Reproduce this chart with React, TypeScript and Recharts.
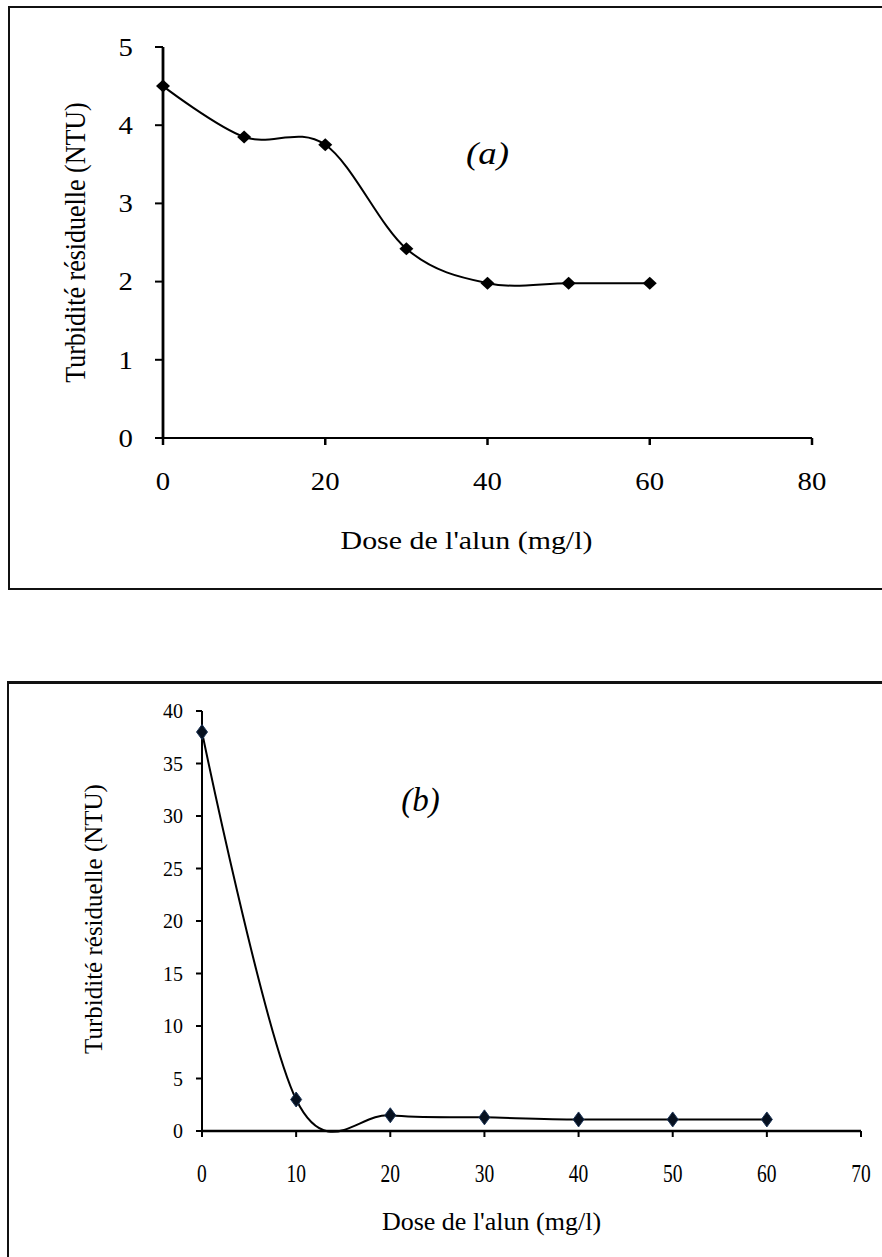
import React from 'react';
import { LineChart, Line, XAxis, YAxis, ReferenceDot } from 'recharts';

// ---------- data ----------
const doseA = [0, 10, 20, 30, 40, 50, 60];
const turbA = [4.5, 3.85, 3.75, 2.42, 1.98, 1.98, 1.98];
const xTicksA = [0, 20, 40, 60, 80];
const yTicksA = [0, 1, 2, 3, 4, 5];

const doseB = [0, 10, 20, 30, 40, 50, 60];
const turbB = [38, 3, 1.5, 1.3, 1.1, 1.1, 1.1];
const xTicksB = [0, 10, 20, 30, 40, 50, 60, 70];
const yTicksB = [0, 5, 10, 15, 20, 25, 30, 35, 40];

const xTitle = "Dose de l'alun (mg/l)";
const yTitle = 'Turbidité résiduelle (NTU)';
const tagA = '(a)';
const tagB = '(b)';

const dataA = doseA.map((x, i) => ({ x, y: turbA[i] }));
const dataB = doseB.map((x, i) => ({ x, y: turbB[i] }));

const FONT = "'Liberation Serif', 'Times New Roman', serif";

// Excel-like smoothed line (cardinal spline, tension 0)
function excelSmooth(context: any) {
  let x0 = NaN, y0 = NaN, x1 = NaN, y1 = NaN, x2 = NaN, y2 = NaN, pt = 0;
  const k = 1 / 6;
  const seg = (x: number, y: number) =>
    context.bezierCurveTo(
      x1 + k * (x2 - x0),
      y1 + k * (y2 - y0),
      x2 + k * (x1 - x),
      y2 + k * (y1 - y),
      x2,
      y2
    );
  return {
    areaStart() {},
    areaEnd() {},
    lineStart() {
      x0 = x1 = x2 = y0 = y1 = y2 = NaN;
      pt = 0;
    },
    lineEnd() {
      if (pt === 2) context.lineTo(x2, y2);
      else if (pt === 3) seg(x1, y1);
    },
    point(x: number, y: number) {
      x = +x;
      y = +y;
      if (pt === 0) {
        pt = 1;
        context.moveTo(x, y);
      } else if (pt === 1) {
        pt = 2;
        x1 = x;
        y1 = y;
      } else {
        pt = 3;
        seg(x, y);
      }
      x0 = x1; x1 = x2; x2 = x;
      y0 = y1; y1 = y2; y2 = y;
    },
  };
}

const sx = (x: number, y: number, s: number) => `translate(${x} ${y}) scale(${s} 1) translate(${-x} ${-y})`;

const DiamondA = (props: any) => {
  const { cx, cy } = props;
  if (cx == null || cy == null) return null;
  return <path d={`M${cx},${cy - 6.5}L${cx + 7},${cy}L${cx},${cy + 6.5}L${cx - 7},${cy}Z`} fill="#000" />;
};

const DiamondB = (props: any) => {
  const { cx, cy } = props;
  if (cx == null || cy == null) return null;
  return (
    <path
      d={`M${cx},${cy - 7.5}L${cx + 5.5},${cy}L${cx},${cy + 7.5}L${cx - 5.5},${cy}Z`}
      fill="#06101f"
      stroke="#1d3557"
      strokeWidth={1}
    />
  );
};

const XTitle = (props: any) => {
  const vb = props.viewBox || { x: 0, y: 0, width: 0, height: 0 };
  const x = vb.x + vb.width / 2 + (props.offX || 0);
  const y = vb.y + props.offY;
  return (
    <text
      x={x}
      y={y}
      textAnchor="middle"
      fontSize={props.fsz}
      fontFamily={FONT}
      fill="#000"
      transform={sx(x, y, props.stretch || 1)}
    >
      {props.titleText}
    </text>
  );
};

const YTitle = (props: any) => {
  const vb = props.viewBox || { x: 0, y: 0, width: 0, height: 0 };
  const x = vb.x + props.offX;
  const y = vb.y + vb.height / 2 + (props.offY || 0);
  return (
    <text
      x={0}
      y={0}
      transform={`translate(${x} ${y}) scale(${props.stretch || 1} 1) rotate(-90)`}
      textAnchor="middle"
      dominantBaseline="central"
      fontSize={props.fsz}
      fontFamily={FONT}
      fill="#000"
    >
      {props.titleText}
    </text>
  );
};

const Tag = (props: any) => {
  const vb = props.viewBox || { x: 0, y: 0, width: 0, height: 0 };
  const x = vb.x + vb.width / 2;
  const y = vb.y + vb.height / 2;
  return (
    <text
      x={x}
      y={y}
      textAnchor="middle"
      dominantBaseline="central"
      fontSize={props.fsz}
      fontStyle="italic"
      fontFamily={FONT}
      fill="#000"
      transform={sx(x, y, props.stretch || 1)}
    >
      {props.tagText}
    </text>
  );
};

const TickX = (props: any) => {
  const { x, y, payload, fsz, stretch } = props;
  return (
    <text x={x} y={y} dy="0.71em" textAnchor="middle" fontSize={fsz} fontFamily={FONT} fill="#000" transform={sx(x, y, stretch)}>
      {payload.value}
    </text>
  );
};

const TickY = (props: any) => {
  const { x, y, payload, fsz, stretch } = props;
  return (
    <text x={x} y={y} dy="0.355em" textAnchor="end" fontSize={fsz} fontFamily={FONT} fill="#000" transform={sx(x, y, stretch)}>
      {payload.value}
    </text>
  );
};

export default function App() {
  return (
    <div style={{ position: 'absolute', left: 0, top: 0, width: 882, height: 1257, overflow: 'hidden', background: '#fff' }}>
      {/* frame a */}
      <div
        style={{
          position: 'absolute',
          left: 8,
          top: 6,
          width: 920,
          height: 584,
          boxSizing: 'border-box',
          border: '2px solid #111',
        }}
      />
      {/* frame b */}
      <div
        style={{
          position: 'absolute',
          left: 7,
          top: 681,
          width: 920,
          height: 700,
          boxSizing: 'border-box',
          border: '2px solid #111',
          borderTopWidth: 3,
        }}
      />

      {/* chart a */}
      <div style={{ position: 'absolute', left: 0, top: 0 }}>
        <LineChart width={882} height={600} data={dataA} margin={{ top: 47, right: 70, bottom: 102, left: 0 }}>
          <XAxis
            type="number"
            dataKey="x"
            domain={[0, 80]}
            ticks={xTicksA}
            interval={0}
            height={60}
            tickSize={7}
            tickMargin={27}
            axisLine={{ stroke: '#000', strokeWidth: 2 }}
            tickLine={{ stroke: '#000', strokeWidth: 2.5 }}
            tick={<TickX fsz={25} stretch={1.15} />}
            label={<XTitle titleText={xTitle} offX={-21} offY={111} fsz={26} stretch={1.15} />}
          />
          <YAxis
            type="number"
            domain={[0, 5]}
            ticks={yTicksA}
            interval={0}
            width={163}
            tickSize={8}
            tickMargin={22}
            axisLine={{ stroke: '#000', strokeWidth: 2.8 }}
            tickLine={{ stroke: '#000', strokeWidth: 2 }}
            tick={<TickY fsz={25} stretch={1.15} />}
            label={<YTitle titleText={yTitle} offX={75} fsz={26} stretch={1.15} />}
          />
          <ReferenceDot x={40} y={3.65} r={0} fill="none" stroke="none" label={<Tag tagText={tagA} fsz={32} stretch={1.15} />} />
          <Line
            dataKey="y"
            type={excelSmooth as any}
            stroke="#000"
            strokeWidth={2}
            dot={(p: any) => <DiamondA key={`a${p.index}`} cx={p.cx} cy={p.cy} />}
            activeDot={false}
            isAnimationActive={false}
          />
        </LineChart>
      </div>

      {/* chart b */}
      <div style={{ position: 'absolute', left: 0, top: 640 }}>
        <LineChart width={882} height={617} data={dataB} margin={{ top: 71, right: 21, bottom: 66, left: 0 }}>
          <XAxis
            type="number"
            dataKey="x"
            domain={[0, 70]}
            ticks={xTicksB}
            interval={0}
            height={60}
            tickSize={6}
            tickMargin={27}
            axisLine={{ stroke: '#000', strokeWidth: 2.5 }}
            tickLine={{ stroke: '#000', strokeWidth: 2 }}
            tick={<TickX fsz={25} stretch={0.78} />}
            label={<XTitle titleText={xTitle} offX={-40} offY={99} fsz={26} />}
          />
          <YAxis
            type="number"
            domain={[0, 40]}
            ticks={yTicksB}
            interval={0}
            width={202}
            tickSize={6}
            tickMargin={13}
            axisLine={{ stroke: '#000', strokeWidth: 2 }}
            tickLine={{ stroke: '#000', strokeWidth: 2 }}
            tick={<TickY fsz={21} stretch={0.95} />}
            label={<YTitle titleText={yTitle} offX={93} offY={-2} fsz={25} />}
          />
          <ReferenceDot x={23.2} y={31.5} r={0} fill="none" stroke="none" label={<Tag tagText={tagB} fsz={33} />} />
          <Line
            dataKey="y"
            type={excelSmooth as any}
            stroke="#000"
            strokeWidth={2}
            dot={(p: any) => <DiamondB key={`b${p.index}`} cx={p.cx} cy={p.cy} />}
            activeDot={false}
            isAnimationActive={false}
          />
        </LineChart>
      </div>
    </div>
  );
}
